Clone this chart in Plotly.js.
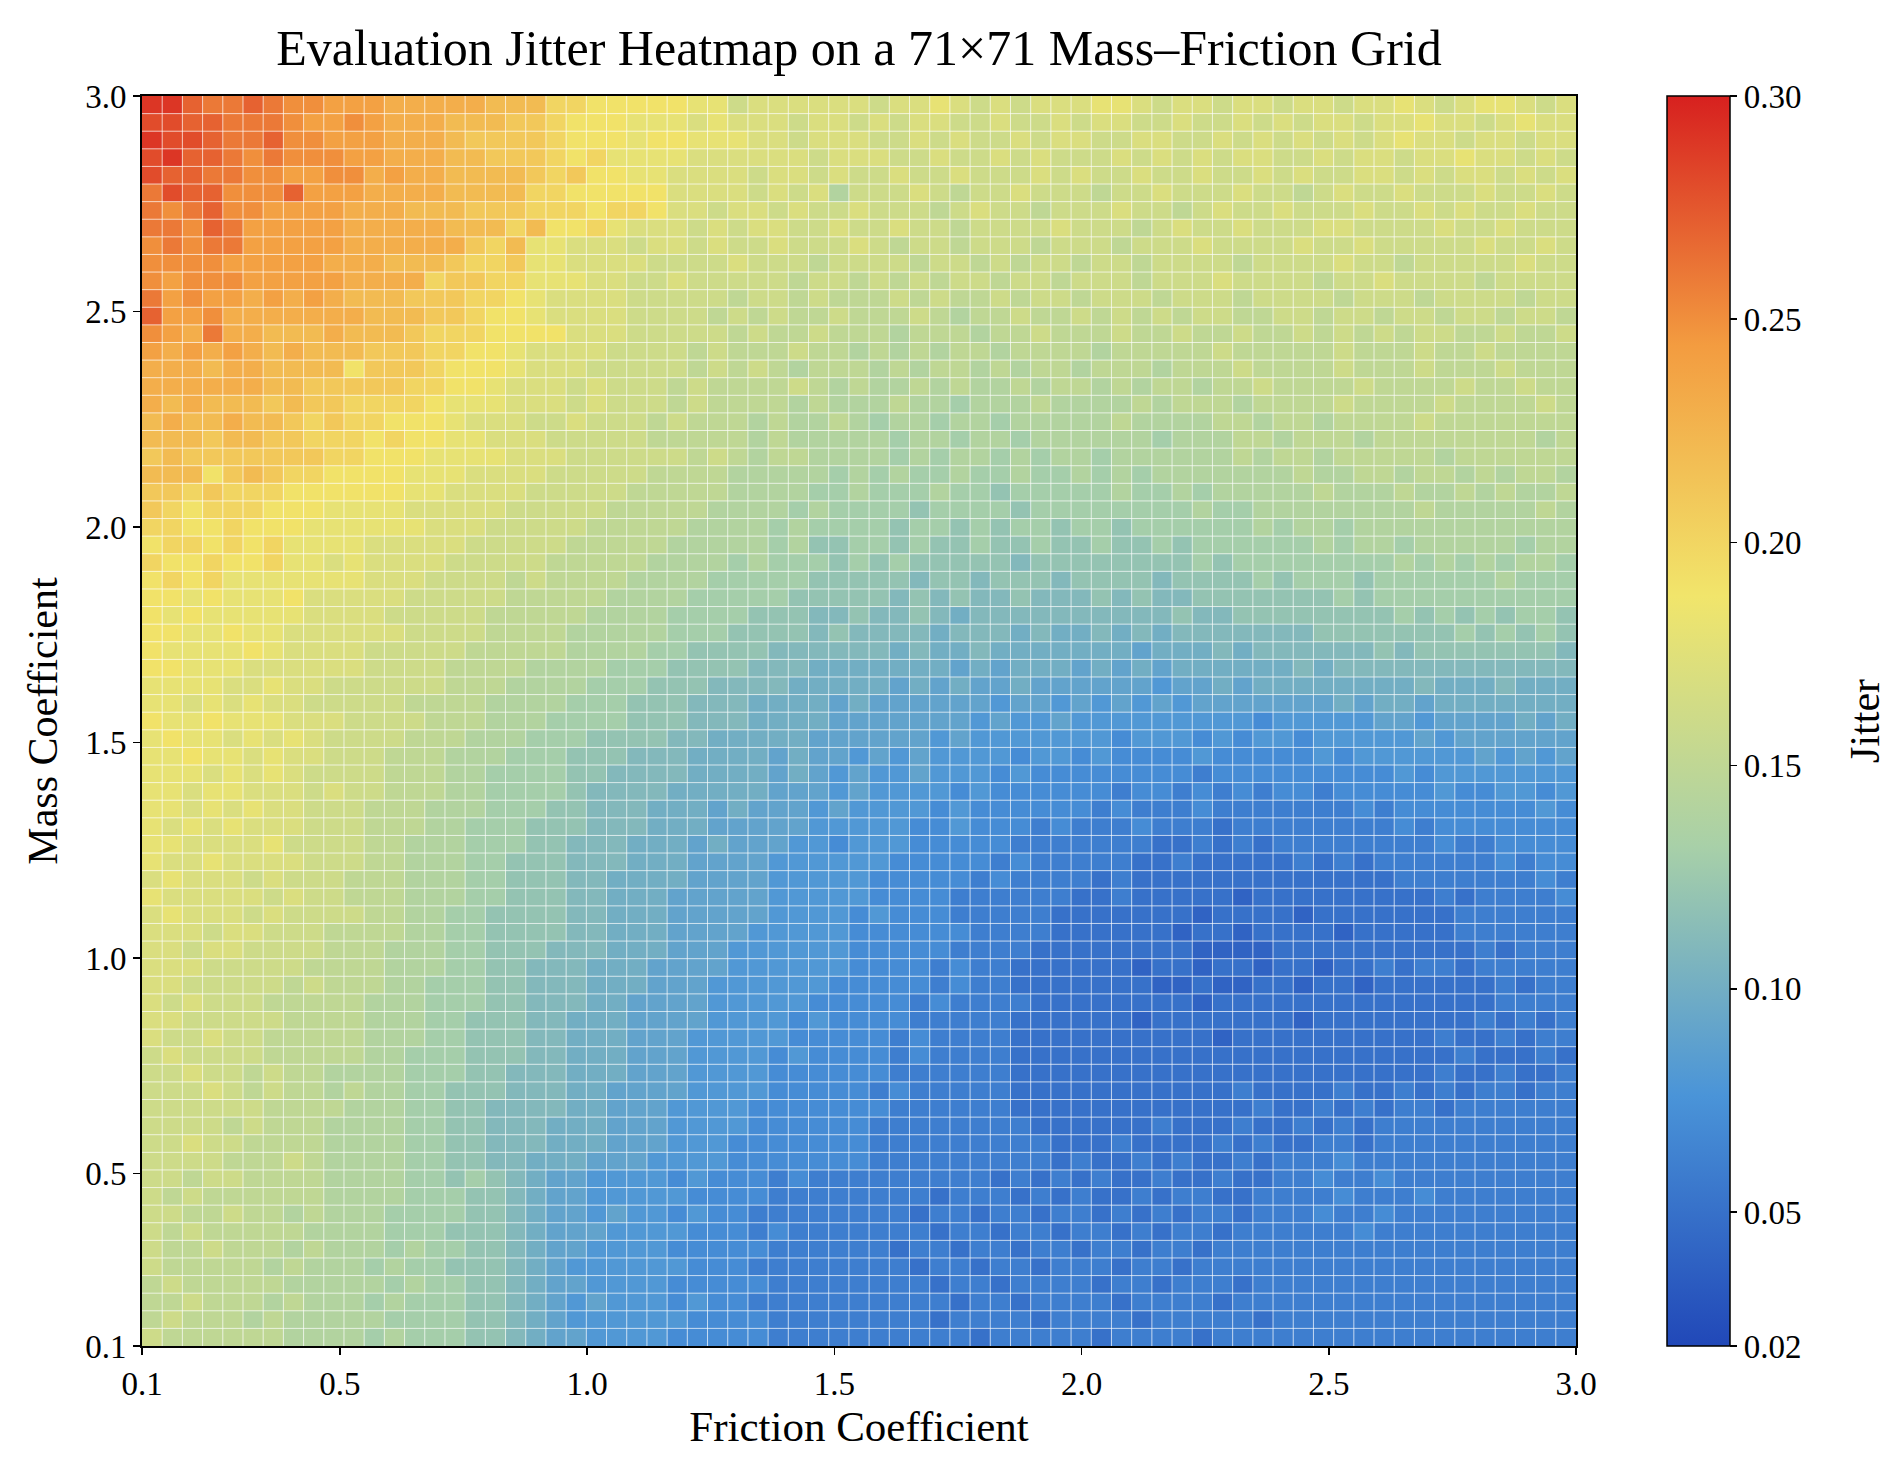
<!DOCTYPE html>
<html>
<head>
<meta charset="utf-8">
<script src="https://cdn.plot.ly/plotly-3.0.1.min.js"></script>
<style>html,body{margin:0;padding:0;background:#fff;}#chart{width:1904px;height:1457px;}</style>
</head>
<body>
<div id="chart"></div>
<script>
// Axis extents and tick labels
const frictionRange = [0.1, 3.0];
const massRange = [0.1, 3.0];
const gridSize = 71;
const tickValues = [0.1, 0.5, 1.0, 1.5, 2.0, 2.5, 3.0];
const tickLabels = ['0.1', '0.5', '1.0', '1.5', '2.0', '2.5', '3.0'];
const colorbarTicks = [0.02, 0.05, 0.10, 0.15, 0.20, 0.25, 0.30];
const colorbarLabels = ['0.02', '0.05', '0.10', '0.15', '0.20', '0.25', '0.30'];

// Jitter values, in hundredths.
// One row per mass value, listed from the TOP row (mass 3.0) down to the bottom row (mass 0.1);
// each row lists friction from 0.1 (left) to 3.0 (right).
const jitterRowsTopDown = [
[29,29,27,26,26,27,26,25,25,24,24,24,23,23,23,23,23,22,22,22,20,20,19,19,19,19,19,18,18,16,17,17,17,17,17,17,16,17,17,18,17,16,17,16,17,17,17,18,18,17,16,17,17,16,17,17,16,17,17,16,17,17,18,17,16,17,18,18,17,16,17],
[28,28,27,27,26,26,26,25,24,24,25,24,23,23,23,22,22,22,21,21,20,19,19,19,18,18,18,17,18,17,17,17,16,17,17,16,17,16,17,17,16,16,17,16,16,17,16,17,17,16,16,17,16,16,17,16,17,16,17,17,16,17,17,18,17,17,16,17,18,17,17],
[29,28,28,27,26,26,27,25,25,24,24,24,23,23,23,22,21,21,21,21,20,19,19,19,18,19,19,18,18,18,17,17,16,17,17,17,16,16,17,16,17,16,16,17,16,17,17,16,16,17,17,16,16,17,16,17,16,17,16,17,16,17,18,17,17,16,17,17,16,17,17],
[28,29,27,27,26,25,26,25,25,25,24,24,23,23,23,22,22,21,21,21,20,19,20,18,18,18,18,17,17,17,17,17,17,16,17,17,17,16,16,17,16,16,17,16,17,16,16,16,17,16,17,16,17,16,17,17,16,16,17,16,17,17,16,17,17,18,17,17,16,17,16],
[28,27,27,26,26,25,25,24,24,25,25,23,24,23,23,22,22,22,22,21,20,21,19,19,18,18,17,17,17,17,16,17,17,16,17,16,16,17,16,16,17,16,16,16,17,16,17,16,16,17,16,16,17,16,16,17,16,17,16,16,17,17,16,17,16,17,17,16,17,16,17],
[26,28,27,27,25,25,25,27,24,24,24,23,23,23,23,22,22,22,22,20,20,19,19,19,19,19,17,17,17,17,16,17,16,17,14,16,16,16,17,16,15,16,16,17,16,16,16,15,16,16,17,16,16,16,17,16,16,15,16,17,16,16,17,16,16,16,17,16,16,17,16],
[26,25,26,27,25,25,24,24,24,24,23,23,23,22,22,22,21,21,21,20,20,20,19,20,20,19,17,17,16,17,17,16,17,16,16,17,16,16,16,15,16,17,16,16,15,16,16,16,17,16,16,15,16,17,16,16,17,16,16,16,17,16,16,17,16,17,16,16,17,16,16],
[26,26,25,27,26,24,24,24,24,24,23,23,23,23,23,22,22,22,20,22,19,19,20,18,17,17,17,16,17,16,17,17,16,16,17,16,16,17,16,16,15,16,16,16,16,17,16,16,16,15,16,17,16,16,17,16,16,16,17,17,16,16,16,16,17,16,16,17,16,16,16],
[25,26,25,26,26,24,24,24,24,24,23,23,23,23,23,23,21,20,22,18,18,17,17,17,16,17,17,16,17,16,16,17,16,16,16,17,16,15,16,16,15,16,16,16,15,16,16,16,15,16,16,16,17,16,16,16,16,17,16,16,17,16,16,16,16,16,17,16,16,17,16],
[25,25,25,25,24,24,24,24,24,23,23,23,22,22,22,21,20,20,21,18,18,17,17,17,17,16,16,16,16,17,16,16,16,15,16,16,16,16,15,16,16,15,16,15,16,16,15,16,16,15,16,16,16,16,15,16,16,16,16,17,16,16,15,16,16,16,16,16,17,16,16],
[25,24,25,25,25,24,24,24,24,24,23,23,23,23,20,21,21,20,20,18,18,18,17,17,16,16,17,16,16,16,16,16,15,16,16,15,16,15,16,15,16,16,15,16,16,15,16,16,16,15,16,16,16,17,16,16,16,16,15,16,16,17,16,16,16,16,15,16,16,16,16],
[26,24,25,24,24,23,24,23,24,23,22,22,22,21,21,21,20,20,19,18,17,17,17,17,16,16,16,16,16,15,16,16,15,16,15,15,15,16,15,16,15,15,16,15,16,16,15,16,16,16,15,16,16,16,15,16,16,16,16,15,16,16,16,15,16,16,16,16,15,16,16],
[27,24,24,25,23,23,23,23,23,23,23,22,22,22,21,21,20,19,19,18,17,17,17,17,16,16,16,16,15,16,15,16,15,15,16,15,15,15,16,15,14,15,15,16,15,15,16,15,16,15,16,15,16,16,15,15,16,16,15,16,16,15,16,16,15,16,16,15,16,16,15],
[25,24,23,26,23,23,22,22,22,23,22,22,22,21,20,20,20,19,19,19,19,17,17,17,16,16,16,16,16,15,16,15,15,16,15,15,15,14,15,15,15,14,15,15,16,15,15,15,16,15,15,16,15,15,16,15,15,16,15,16,15,16,15,16,16,15,15,16,15,15,16],
[24,23,24,23,24,23,22,23,22,22,22,21,21,21,20,20,19,19,18,17,17,17,17,16,16,16,16,15,16,15,15,15,16,15,15,14,15,14,15,14,15,15,14,15,15,15,15,14,15,15,15,15,15,16,15,15,15,15,15,16,15,15,15,16,15,15,16,15,15,15,15],
[23,23,23,22,23,23,22,22,22,22,19,21,21,21,20,19,19,19,18,17,17,17,16,16,16,16,16,15,16,15,16,15,14,15,15,15,14,15,14,15,15,14,15,14,15,15,14,15,15,15,14,15,15,15,16,15,15,15,15,16,15,15,15,16,15,15,15,16,15,15,15],
[23,23,23,23,23,23,22,22,21,21,21,21,21,20,20,19,19,18,17,17,17,16,17,16,16,16,15,16,15,15,15,15,16,15,14,15,14,14,15,14,15,14,14,15,14,15,15,14,15,14,15,15,14,15,15,16,15,15,15,15,16,15,15,15,15,16,15,15,16,15,15],
[23,22,23,22,22,22,21,22,21,21,20,20,20,20,19,18,18,18,17,17,17,16,17,16,16,16,15,16,15,15,15,15,14,15,14,14,14,15,14,14,13,14,14,14,15,14,14,14,14,15,14,15,15,15,14,15,15,15,15,16,15,15,15,15,16,15,15,15,15,16,15],
[22,23,22,22,23,22,22,21,20,21,20,20,19,19,19,18,17,17,17,16,16,17,16,16,16,15,16,15,15,15,14,15,14,14,15,14,13,14,14,13,14,14,13,14,14,14,14,14,15,14,14,14,14,15,15,14,15,15,14,15,15,15,15,16,15,15,15,15,15,15,15],
[22,22,22,21,22,22,21,21,20,20,20,19,20,19,19,18,18,17,17,17,16,16,16,16,16,15,15,15,15,15,14,15,14,14,14,14,14,13,14,14,13,14,14,13,14,14,14,14,14,14,13,14,14,14,15,15,14,15,15,15,14,15,15,15,15,15,15,15,15,14,15],
[21,22,21,21,21,21,21,21,21,20,20,19,19,19,18,18,18,18,17,17,17,16,16,16,16,16,16,15,16,15,14,15,15,14,14,14,14,13,14,13,14,14,13,14,13,14,14,13,14,14,14,14,14,14,15,14,15,15,14,15,15,15,15,15,14,15,15,15,15,15,15],
[22,22,22,19,21,22,21,20,20,19,19,19,19,18,18,18,17,17,17,17,16,16,16,16,16,15,15,15,15,14,14,14,14,14,13,14,13,14,13,13,14,13,13,14,13,13,14,13,14,13,14,14,14,14,14,14,14,15,14,14,15,15,14,15,15,14,15,14,15,15,14],
[21,21,20,21,20,20,20,19,19,19,19,19,19,18,18,17,17,17,17,16,16,16,16,16,15,15,15,15,15,14,14,14,14,13,13,14,13,13,13,14,13,13,12,13,13,13,13,13,14,13,13,14,13,14,14,14,14,14,15,14,14,14,15,14,14,15,14,15,14,14,15],
[21,20,19,20,20,20,19,19,19,18,18,18,18,17,17,17,17,17,16,16,16,16,16,15,15,15,15,15,14,14,14,14,13,14,13,13,13,13,12,13,13,13,13,12,13,13,13,13,13,13,13,13,14,13,13,14,14,14,14,14,14,14,14,15,14,14,14,14,14,15,14],
[20,20,19,19,20,19,19,19,18,18,18,18,18,18,17,17,17,16,16,16,16,16,15,15,15,15,15,14,14,14,14,13,14,13,13,13,13,12,13,13,12,13,12,13,13,12,13,13,12,13,13,13,13,13,13,14,13,14,14,13,14,14,14,14,14,14,14,14,14,14,14],
[19,20,20,19,20,19,20,18,18,18,18,17,17,17,17,17,16,16,16,16,16,15,15,15,15,15,14,14,14,14,14,13,14,12,12,13,13,12,13,12,12,13,12,12,13,12,12,13,12,12,13,12,13,13,13,13,13,13,14,13,14,14,13,14,14,14,14,14,13,14,14],
[20,19,19,20,19,19,20,18,18,17,18,17,17,17,17,16,16,16,16,16,15,15,15,15,15,14,14,14,14,13,14,13,13,13,12,13,12,13,12,12,12,12,12,11,12,12,12,12,12,12,12,12,13,12,13,13,13,13,13,13,13,13,14,13,14,13,14,13,14,14,13],
[19,20,19,20,18,18,18,18,18,18,18,17,17,17,16,16,16,16,15,16,15,15,15,15,14,14,14,14,13,13,13,13,13,12,12,12,12,12,11,12,12,11,12,12,12,11,12,12,12,12,11,12,12,12,12,13,12,13,13,13,12,13,13,13,13,13,13,14,13,13,13],
[19,19,18,19,18,18,18,19,17,17,17,17,17,16,16,16,16,16,15,15,15,15,15,14,14,14,14,13,13,13,13,13,12,12,12,12,12,11,12,11,12,11,11,12,11,11,11,12,11,12,11,11,12,12,12,12,12,12,12,13,12,13,13,13,13,13,13,13,13,13,13],
[19,18,19,18,18,18,18,18,17,17,17,17,16,16,16,16,16,15,15,15,15,15,14,14,14,14,13,13,13,13,12,12,12,11,11,12,11,11,12,11,10,11,11,11,11,11,11,11,11,11,11,12,11,11,12,12,12,12,12,12,12,12,13,12,13,12,13,12,13,13,12],
[19,19,18,18,19,18,18,17,17,17,17,17,17,16,16,16,16,15,15,15,15,14,14,14,14,14,13,13,13,12,12,12,12,11,12,11,11,11,11,10,11,11,11,10,11,10,10,11,10,11,10,11,11,11,11,11,11,11,12,12,12,12,12,12,12,13,12,13,12,13,12],
[19,18,18,18,18,19,18,17,17,17,17,16,16,16,16,16,15,15,15,15,15,14,14,14,14,13,13,12,12,12,12,11,11,11,11,11,11,10,11,10,10,11,10,10,10,10,10,10,10,9,10,10,10,11,10,11,11,11,11,11,11,12,11,12,12,12,12,12,12,12,11],
[19,19,18,18,18,17,17,17,17,17,17,16,16,16,16,15,15,15,15,14,14,14,14,13,13,13,12,12,12,12,11,11,11,10,10,10,10,10,10,10,9,10,9,10,10,10,9,10,9,10,9,10,10,10,10,10,10,11,10,11,11,11,11,11,11,11,11,11,11,11,11],
[18,18,18,18,17,17,18,17,17,16,16,16,16,16,16,15,15,15,14,14,14,14,13,13,13,12,12,12,11,11,11,11,10,10,10,10,10,9,10,9,10,9,9,10,9,9,9,9,9,9,8,9,9,10,9,10,10,10,10,10,10,10,10,11,10,10,10,11,10,10,10],
[18,18,17,18,17,18,17,17,16,16,16,16,16,15,15,15,15,14,14,14,14,13,13,13,12,12,12,11,11,11,10,10,10,10,9,10,9,9,9,9,9,9,8,9,9,8,9,8,9,8,9,8,9,9,9,9,9,9,9,10,9,10,10,9,10,10,10,10,10,10,10],
[19,18,18,19,18,18,18,17,17,17,16,16,16,16,15,15,15,14,14,14,13,13,13,13,12,12,12,11,11,11,10,10,10,10,9,9,9,9,9,9,9,8,9,8,8,9,8,8,8,8,8,8,8,8,8,7,8,8,8,8,8,9,9,8,9,9,9,9,10,9,10],
[18,19,18,18,17,18,17,18,17,16,16,16,16,15,15,15,14,14,14,13,13,13,12,12,12,12,11,11,10,10,10,10,10,9,9,9,9,9,9,8,9,8,8,8,8,8,8,8,7,8,8,8,7,8,7,8,8,7,8,8,8,8,8,9,8,9,9,9,9,9,9],
[18,18,19,18,18,17,18,17,17,16,16,16,15,15,15,14,14,14,13,13,13,12,12,12,11,11,11,10,10,10,10,9,10,9,9,8,9,8,9,8,8,8,8,7,8,8,7,8,7,7,7,7,8,7,7,7,7,7,8,7,8,8,8,8,8,8,9,8,9,8,9],
[18,18,18,17,18,17,18,17,16,16,16,16,15,15,15,14,14,13,13,13,13,12,12,11,11,11,11,10,10,10,10,9,10,9,8,9,8,8,9,8,8,8,7,8,7,7,7,7,7,7,7,7,6,7,7,7,7,7,7,7,7,7,8,7,8,8,8,8,8,8,8],
[18,18,17,18,18,17,17,17,16,17,16,16,15,15,15,14,14,13,13,13,13,12,11,11,11,11,10,10,10,10,10,9,9,9,8,9,8,8,8,8,7,8,7,7,7,7,7,7,6,7,7,6,7,6,7,6,7,7,6,7,7,7,7,7,8,7,7,8,8,7,8],
[18,18,17,18,17,18,17,17,16,16,16,15,15,15,14,14,14,13,13,13,12,12,11,11,11,10,10,10,9,10,9,9,9,8,9,8,8,8,8,7,8,7,7,7,7,7,7,6,7,6,6,6,7,6,6,6,6,6,6,6,7,6,7,7,7,7,7,7,7,8,7],
[18,17,18,17,18,17,17,17,16,16,16,15,15,15,14,14,13,13,13,12,12,12,11,11,11,10,10,10,9,9,9,9,9,8,8,8,8,8,7,7,8,7,7,7,6,7,6,6,6,7,6,6,6,5,6,6,6,6,6,6,6,6,7,6,7,7,7,7,7,7,7],
[18,18,17,17,17,17,18,16,16,16,16,15,15,14,14,14,13,13,13,12,12,11,11,11,10,10,10,9,10,9,9,9,8,8,7,8,8,8,7,7,7,7,7,6,6,6,6,6,6,6,5,5,6,5,6,5,6,6,6,6,6,6,6,6,7,6,6,7,7,7,7],
[18,17,17,18,17,17,17,17,16,16,16,15,15,14,14,14,13,13,12,12,12,11,11,11,10,10,10,9,9,9,9,8,8,8,8,8,8,7,7,7,7,7,6,7,6,6,6,6,6,5,5,6,5,5,5,5,5,6,5,6,5,6,6,6,6,6,6,7,6,7,7],
[17,18,17,17,17,16,17,16,16,16,15,15,15,14,14,14,13,13,12,12,12,11,11,10,10,10,10,9,9,9,9,8,8,8,8,8,7,7,7,7,7,6,7,6,6,6,6,5,6,5,5,5,5,5,5,5,5,5,5,5,5,5,6,6,6,6,6,6,6,7,6],
[18,17,17,17,17,17,16,17,16,16,15,15,15,14,14,14,13,13,12,12,12,11,11,10,10,10,9,9,9,9,9,8,8,8,8,8,7,7,7,7,6,6,6,6,6,6,5,5,6,5,5,5,5,5,4,5,5,5,5,5,5,5,5,5,6,5,6,6,6,6,7],
[17,18,17,17,17,16,17,16,16,16,16,15,15,14,14,13,13,12,12,12,12,11,11,10,10,10,9,9,9,9,9,8,8,8,8,7,8,7,7,7,6,6,6,6,6,5,5,5,5,5,5,5,4,5,5,5,5,4,5,5,5,5,5,5,5,6,6,6,6,6,6],
[17,17,17,16,17,17,16,16,16,15,15,15,15,14,14,13,13,12,12,12,12,11,11,10,10,10,9,9,9,9,8,8,8,8,8,7,7,7,7,7,7,6,6,6,6,5,5,5,5,5,5,4,5,5,4,5,5,5,5,4,5,5,5,5,5,6,6,6,6,6,6],
[17,17,16,17,17,16,16,16,16,15,15,15,14,14,14,13,13,12,12,12,11,11,11,10,10,10,9,9,9,8,8,8,8,8,8,7,7,7,7,7,6,6,6,6,5,5,5,5,5,5,5,5,4,4,4,4,5,5,5,5,5,5,5,5,5,5,6,5,6,6,6],
[17,17,17,16,16,16,16,16,15,15,15,15,14,14,14,13,13,12,12,11,11,11,10,10,10,9,9,9,9,8,8,8,8,8,8,7,7,7,7,6,7,6,6,5,5,5,5,5,5,4,5,5,4,5,5,4,5,5,4,5,5,6,5,6,6,5,6,6,6,6,6],
[17,17,16,16,16,16,16,15,16,15,15,15,14,14,13,13,13,12,12,11,11,11,10,10,10,9,9,9,8,8,8,8,8,8,7,7,7,7,7,6,7,6,6,5,5,5,5,5,5,5,4,4,5,4,4,5,5,4,5,5,4,5,5,5,5,5,5,6,5,6,6],
[17,16,17,16,16,16,15,15,15,15,15,14,14,14,13,13,13,12,12,11,11,11,10,10,9,9,9,9,8,8,8,8,8,7,7,7,7,7,6,7,6,6,6,6,5,5,5,5,5,5,5,5,4,5,5,5,5,5,5,5,5,5,5,5,5,5,5,6,6,6,6],
[17,17,16,16,16,16,16,15,15,15,15,14,14,14,13,13,12,12,12,11,11,10,10,10,9,9,9,9,8,8,8,8,7,8,7,7,7,7,6,6,6,6,6,5,5,5,5,5,5,4,5,5,5,5,5,5,5,4,5,5,5,5,5,5,5,5,6,5,6,5,6],
[17,16,16,17,16,16,15,15,15,15,15,14,14,14,13,13,12,12,12,11,11,10,10,10,9,9,9,8,8,8,8,8,7,7,7,7,7,6,7,6,6,6,6,5,5,5,5,5,5,5,5,5,5,4,5,5,5,5,5,5,5,5,5,5,6,5,5,6,5,6,6],
[16,17,16,16,16,16,15,15,15,15,15,14,14,13,13,13,12,12,12,11,11,10,10,10,9,9,9,8,8,8,8,7,8,7,7,7,7,6,7,6,6,6,6,5,5,5,5,5,5,5,5,5,5,5,5,5,5,5,5,5,5,5,5,5,5,6,5,5,5,6,5,6,6,6,6],
[16,16,17,16,16,15,16,15,15,14,14,14,14,13,13,13,12,12,11,11,11,10,10,10,9,9,9,8,8,8,8,7,7,7,7,7,7,6,6,6,6,6,6,5,5,5,5,5,5,5,5,5,5,5,5,5,5,5,5,5,5,5,5,5,6,5,5,6,5,5,6,5,6,6,6],
[16,16,16,17,16,15,16,15,15,14,15,14,14,13,13,12,12,12,11,11,11,10,10,9,9,9,9,8,8,8,8,7,7,7,7,7,6,7,6,6,6,6,6,5,5,5,5,5,5,5,5,5,5,5,6,5,5,5,5,6,5,5,6,5,6,5,6,6,5,6,6],
[16,16,16,16,16,16,15,15,15,15,14,14,14,13,13,12,12,11,11,11,11,10,10,9,9,9,8,8,8,8,7,7,7,7,7,7,7,6,6,6,6,6,6,5,5,5,5,5,5,5,5,5,5,5,5,6,5,5,6,5,6,5,6,6,5,6,6,6,6,6,6],
[16,16,16,16,15,16,15,15,15,14,14,14,14,13,13,12,12,11,11,11,10,10,10,9,9,9,8,8,8,8,7,7,7,7,7,7,6,6,6,6,6,6,6,6,5,5,5,5,5,5,6,5,5,5,6,5,5,6,5,6,5,6,6,6,6,6,6,6,6,6,6],
[16,16,17,16,16,15,15,15,15,14,14,14,14,13,13,12,12,11,11,11,10,10,10,9,9,9,8,8,8,7,7,7,7,7,7,7,6,6,6,6,6,6,6,6,6,5,5,5,6,5,5,5,5,6,5,6,5,5,6,6,5,6,6,6,6,6,6,6,6,6,6],
[16,16,16,16,15,15,15,16,15,14,14,14,14,13,13,12,12,11,11,10,10,10,9,9,9,8,8,8,8,7,7,7,7,7,7,7,6,6,6,6,6,6,6,6,6,5,6,5,5,6,5,6,5,5,6,5,6,6,6,7,6,6,6,6,6,6,6,6,6,6,6],
[16,16,15,16,16,15,15,15,15,14,14,14,14,13,13,12,13,12,11,10,9,9,8,8,8,8,7,8,7,7,7,6,7,6,6,6,6,6,6,6,6,6,5,6,5,6,5,6,5,5,6,5,5,6,5,5,6,6,7,6,6,7,6,6,6,6,6,6,6,6,6],
[16,15,16,15,15,15,15,15,15,14,14,14,14,13,13,13,12,12,11,10,9,9,8,8,8,8,8,7,7,7,7,6,6,6,6,6,6,6,6,5,6,6,6,5,6,5,6,5,5,6,5,6,6,5,5,6,6,6,6,7,6,6,6,7,6,6,6,6,6,6,6],
[16,16,15,15,16,15,15,14,15,14,14,14,13,13,13,13,12,12,11,10,9,9,8,9,8,8,7,8,7,7,6,6,6,6,6,6,6,6,5,6,6,5,6,6,5,6,6,5,6,5,6,5,6,6,5,6,6,6,7,6,6,7,6,6,6,6,6,6,6,6,6],
[16,15,16,15,15,15,15,15,14,14,14,14,13,13,13,12,12,12,11,10,9,9,9,8,8,8,8,7,7,7,6,7,6,6,6,6,6,6,6,5,6,6,5,6,6,5,6,6,5,6,5,6,6,5,6,6,6,6,6,6,7,6,6,6,6,6,6,6,6,6,6],
[16,15,15,16,15,15,15,14,15,14,14,14,13,14,13,13,12,12,11,10,9,9,8,8,8,8,7,7,7,7,7,6,6,6,6,6,6,5,6,6,5,6,6,5,6,6,5,6,6,5,6,6,5,6,6,6,6,6,6,6,6,6,6,6,6,6,6,6,6,6,6],
[16,15,15,15,15,15,14,15,14,14,14,13,14,13,13,12,12,12,11,10,9,8,8,8,8,8,8,7,7,7,6,6,6,6,6,6,6,6,5,6,6,5,6,6,5,6,6,6,5,6,6,5,6,6,6,6,6,6,6,6,6,6,6,6,6,6,6,6,6,6,6],
[15,16,15,15,15,15,15,14,14,14,14,14,13,14,13,13,12,12,11,10,9,9,8,8,8,8,7,7,7,7,7,6,6,6,6,6,6,6,6,5,6,6,5,6,6,6,6,5,6,6,5,6,6,6,5,6,6,6,6,6,6,6,6,6,6,6,6,6,6,6,6],
[15,15,16,15,15,15,14,15,14,14,14,13,14,13,13,13,12,12,11,10,9,8,9,8,8,8,7,8,7,7,6,6,6,6,6,6,6,6,6,6,5,6,6,5,6,6,6,6,5,6,6,6,6,5,6,6,6,6,6,6,6,6,6,6,6,6,6,6,6,6,6],
[15,16,15,15,15,14,15,14,14,14,14,14,13,13,13,13,12,12,11,10,9,8,8,8,8,8,8,7,7,7,7,6,6,6,6,6,6,6,6,5,6,6,6,6,5,6,6,6,6,5,6,6,6,6,6,5,6,6,6,6,6,6,6,6,6,6,6,6,6,6,6],
[16,15,15,15,15,15,15,14,14,14,14,13,14,13,13,13,12,12,11,10,9,9,8,8,8,8,7,7,7,7,7,6,6,6,6,6,6,6,6,6,6,5,6,6,6,6,6,5,6,6,6,6,5,6,6,6,6,6,6,6,6,6,6,6,6,6,6,6,6,6,6]
];

// Colour stops of the reference colour bar
const colorStops = [0, 0.2, 0.4, 0.6, 0.8, 1.0];
const colorHexes = ['#2148b8', '#4a94d8', '#a8d0a8', '#f1e56b', '#f39c40', '#d7201f'];

const jitter = jitterRowsTopDown.slice().reverse().map(r => r.slice(0, gridSize).map(v => v / 100));
const cellX = (frictionRange[1] - frictionRange[0]) / gridSize;
const cellY = (massRange[1] - massRange[0]) / gridSize;

const serif = 'Liberation Serif, Times New Roman, serif';

const trace = {
  type: 'heatmap',
  z: jitter,
  x0: frictionRange[0] + cellX / 2,
  dx: cellX,
  y0: massRange[0] + cellY / 2,
  dy: cellY,
  zmin: 0.02,
  zmax: 0.30,
  zsmooth: false,
  colorscale: colorStops.map((s, i) => [s, colorHexes[i]]),
  colorbar: {
    x: 1.0635, xanchor: 'left', xref: 'paper',
    y: 0.5, yanchor: 'middle', len: 1, lenmode: 'fraction',
    thickness: 63, thicknessmode: 'pixels',
    xpad: 0, ypad: 0,
    outlinewidth: 1.5, outlinecolor: '#000',
    ticks: 'outside', ticklen: 7, tickwidth: 1.5, tickcolor: '#000',
    tickvals: colorbarTicks, ticktext: colorbarLabels,
    tickfont: {family: serif, size: 33, color: '#000'}
  }
};

// thin translucent white lines on the cell edges (like the reference's cell edges)
const edgeShapes = [];
for (let k = 1; k < gridSize; k++) {
  const xv = frictionRange[0] + k * cellX;
  const yv = massRange[0] + k * cellY;
  edgeShapes.push({type: 'line', xref: 'x', yref: 'paper', x0: xv, x1: xv, y0: 0, y1: 1,
    line: {color: 'rgba(255,255,255,0.7)', width: 1}, layer: 'above'});
  edgeShapes.push({type: 'line', xref: 'paper', yref: 'y', x0: 0, x1: 1, y0: yv, y1: yv,
    line: {color: 'rgba(255,255,255,0.7)', width: 1}, layer: 'above'});
}

const axisCommon = {
  showgrid: false, zeroline: false,
  showline: true, linecolor: '#000', linewidth: 2, mirror: true,
  ticks: 'outside', ticklen: 7, tickwidth: 1.5, tickcolor: '#000',
  tickvals: tickValues, ticktext: tickLabels,
  tickfont: {family: serif, size: 33, color: '#000'}
};

const layout = {
  width: 1904, height: 1457,
  paper_bgcolor: '#ffffff', plot_bgcolor: '#ffffff',
  margin: {l: 142, r: 328, t: 96, b: 111, pad: 0},
  title: {
    text: 'Evaluation Jitter Heatmap on a 71×71 Mass–Friction Grid',
    font: {family: serif, size: 50, color: '#000'},
    x: 0.5, xref: 'paper', xanchor: 'center',
    y: 1 - 47 / 1457, yref: 'container', yanchor: 'middle'
  },
  xaxis: Object.assign({}, axisCommon, {
    range: frictionRange,
    title: {text: 'Friction Coefficient', font: {family: serif, size: 43, color: '#000'}, standoff: 10}
  }),
  yaxis: Object.assign({}, axisCommon, {
    range: massRange,
    title: {text: 'Mass Coefficient', font: {family: serif, size: 42, color: '#000'}, standoff: 14}
  }),
  shapes: edgeShapes,
  annotations: [{
    text: 'Jitter', xref: 'paper', yref: 'paper', x: 1.2015, y: 0.5,
    xanchor: 'center', yanchor: 'middle', textangle: -90, showarrow: false,
    font: {family: serif, size: 42, color: '#000'}
  }]
};

Plotly.newPlot('chart', [trace], layout, {displayModeBar: false, staticPlot: true});
</script>
</body>
</html>
